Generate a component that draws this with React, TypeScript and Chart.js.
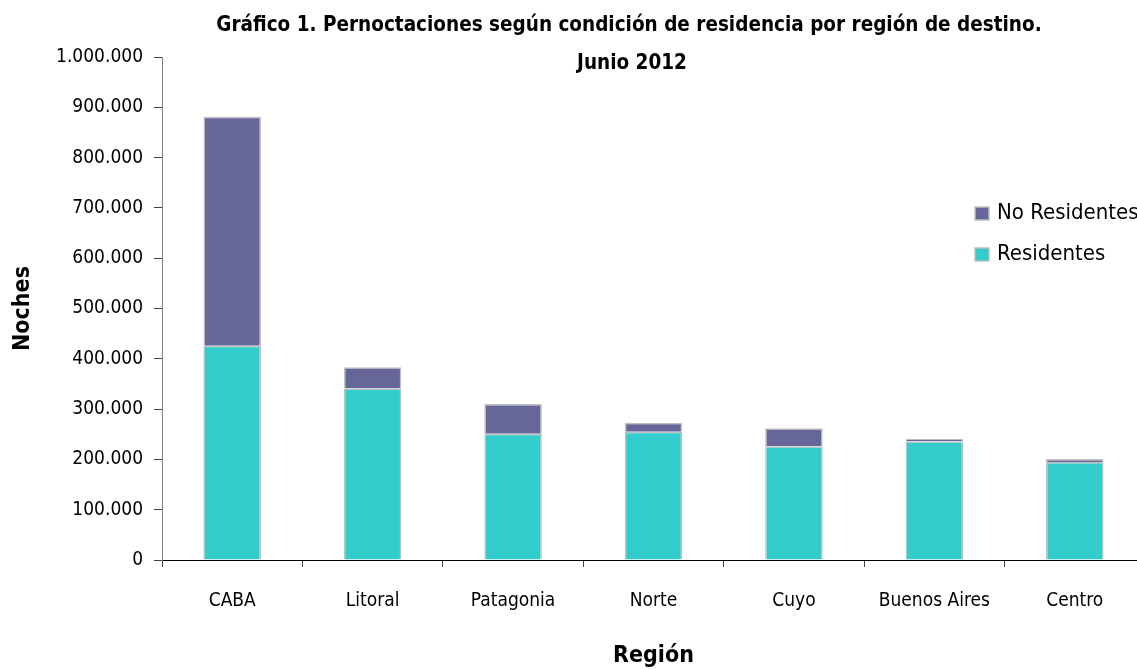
import React, { useEffect, useRef } from "react";
import { Chart, registerables } from "chart.js";

Chart.register(...registerables);

const categories = ["CABA", "Litoral", "Patagonia", "Norte", "Cuyo", "Buenos Aires", "Centro"];
const residentes = [426000, 341000, 251000, 255000, 226000, 236000, 195000];
const noResidentes = [455000, 42000, 59000, 18000, 36000, 5000, 6000];
const seriesNames = ["Residentes", "No Residentes"];
const titleLines = [
  "Gráfico 1. Pernoctaciones según condición de residencia por región de destino.",
  "Junio 2012",
];
const yTitle = "Noches";
const xTitle = "Región";

const FONT = '"DejaVu Sans Condensed", "DejaVu Sans", sans-serif';
const COL_RES = "#33CCCC";
const COL_NORES = "#666699";
const BORDER = "#C0C0C0";

function fmt(v: number): string {
  return String(Math.round(v)).replace(/\B(?=(\d{3})+(?!\d))/g, ".");
}

const overlayPlugin = {
  id: "overlay",
  afterDraw(chart: any) {
    const ctx = chart.ctx;
    ctx.save();
    // title
    ctx.fillStyle = "#000";
    ctx.textAlign = "center";
    ctx.textBaseline = "alphabetic";
    ctx.font = `bold 20.5px ${FONT}`;
    ctx.fillText(titleLines[0], 629, 31);
    ctx.fillText(titleLines[1], 632, 69);
    // legend (reverse order)
    const ds = chart.data.datasets.slice().reverse();
    ctx.font = `22px ${FONT}`;
    ctx.textAlign = "left";
    ds.forEach((d: any, i: number) => {
      const y = 207 + i * 41;
      ctx.fillStyle = d.backgroundColor;
      ctx.fillRect(975, y, 14, 13);
      ctx.strokeStyle = BORDER;
      ctx.lineWidth = 1.5;
      ctx.strokeRect(975, y, 14, 13);
      ctx.fillStyle = "#000";
      ctx.fillText(d.label, 997, y + 12);
    });
    ctx.restore();
  },
};

export default function App() {
  const ref = useRef<HTMLCanvasElement>(null);
  useEffect(() => {
    if (!ref.current) return;
    const chart = new Chart(ref.current, {
      type: "bar",
      data: {
        labels: categories,
        datasets: [
          {
            label: seriesNames[0],
            data: residentes,
            backgroundColor: COL_RES,
            borderColor: BORDER,
            borderWidth: 1.5,
            barPercentage: 0.41,
            categoryPercentage: 1,
          },
          {
            label: seriesNames[1],
            data: noResidentes,
            backgroundColor: COL_NORES,
            borderColor: BORDER,
            borderWidth: 1.5,
            barPercentage: 0.41,
            categoryPercentage: 1,
          },
        ],
      },
      options: {
        responsive: false,
        animation: false,
        layout: { padding: { top: 57, left: 0, right: 0, bottom: 0 } },
        plugins: {
          legend: { display: false },
          title: { display: false },
          tooltip: { enabled: false },
        },
        scales: {
          x: {
            stacked: true,
            afterFit: (s: any) => {
              s.height = 110;
            },
            border: { color: "#000", width: 1 },
            grid: {
              offset: true,
              drawOnChartArea: false,
              drawTicks: true,
              tickLength: 7,
              color: "#404040",
            },
            ticks: {
              padding: 23,
              color: "#000",
              font: { family: FONT, size: 19 },
              maxRotation: 0,
            },
            title: {
              display: true,
              text: xTitle,
              color: "#000",
              font: { family: FONT, size: 23, weight: "bold" },
              padding: { top: 0, bottom: 0 },
            },
          },
          y: {
            stacked: true,
            min: 0,
            max: 1000000,
            afterFit: (s: any) => {
              s.width = 162;
            },
            border: { color: "#808080", width: 1 },
            grid: {
              drawOnChartArea: false,
              drawTicks: true,
              tickLength: 8,
              color: "#404040",
            },
            ticks: {
              stepSize: 100000,
              padding: 11,
              color: "#000",
              font: { family: FONT, size: 19 },
              callback: (v: any) => fmt(Number(v)),
            },
            title: {
              display: true,
              text: yTitle,
              color: "#000",
              font: { family: FONT, size: 23, weight: "bold" },
              padding: { top: 9, bottom: 0 },
            },
          },
        },
      },
      plugins: [overlayPlugin],
    });
    return () => chart.destroy();
  }, []);
  return (
    <div style={{ position: "fixed", left: 0, top: 0, width: 1145, height: 670, background: "#fff" }}>
      <canvas ref={ref} width={1145} height={670} />
    </div>
  );
}
